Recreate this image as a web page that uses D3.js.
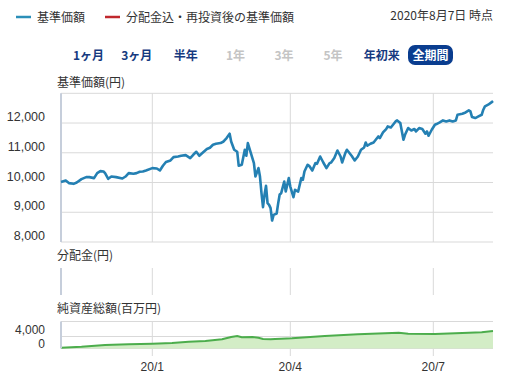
<!DOCTYPE html>
<html><head><meta charset="utf-8">
<script src="https://cdn.jsdelivr.net/npm/d3@7"></script>
<style>
html,body{margin:0;padding:0;background:#fff;}
svg{display:block;font-family:"Noto Sans CJK JP","Noto Sans",sans-serif;}
.num{font-family:"Liberation Sans",Arial,sans-serif;}
</style></head><body>
<svg id="c" width="510" height="376"></svg>
<script>
// ---------- data ----------
const navDates = ["2019-11-04","2019-11-07","2019-11-09","2019-11-12","2019-11-14","2019-11-17","2019-11-20","2019-11-22","2019-11-25","2019-11-27","2019-11-29","2019-12-01","2019-12-02","2019-12-04","2019-12-06","2019-12-09","2019-12-13","2019-12-15","2019-12-17","2019-12-20","2019-12-22","2019-12-24","2019-12-26","2019-12-28","2020-01-01","2020-01-04","2020-01-06","2020-01-08","2020-01-10","2020-01-13","2020-01-15","2020-01-18","2020-01-20","2020-01-23","2020-01-26","2020-01-28","2020-01-30","2020-02-01","2020-02-03","2020-02-06","2020-02-08","2020-02-10","2020-02-12","2020-02-15","2020-02-17","2020-02-19","2020-02-21","2020-02-22","2020-02-24","2020-02-26","2020-02-27","2020-02-29","2020-03-02","2020-03-03","2020-03-04","2020-03-06","2020-03-08","2020-03-09","2020-03-11","2020-03-12","2020-03-13","2020-03-14","2020-03-15","2020-03-16","2020-03-17","2020-03-18","2020-03-19","2020-03-20","2020-03-21","2020-03-23","2020-03-24","2020-03-25","2020-03-26","2020-03-28","2020-03-29","2020-03-31","2020-04-01","2020-04-03","2020-04-04","2020-04-06","2020-04-08","2020-04-09","2020-04-10","2020-04-12","2020-04-13","2020-04-15","2020-04-17","2020-04-18","2020-04-20","2020-04-22","2020-04-24","2020-04-26","2020-04-27","2020-04-29","2020-05-01","2020-05-03","2020-05-04","2020-05-06","2020-05-07","2020-05-10","2020-05-12","2020-05-14","2020-05-16","2020-05-18","2020-05-19","2020-05-20","2020-05-22","2020-05-24","2020-05-27","2020-05-28","2020-05-30","2020-06-01","2020-06-02","2020-06-04","2020-06-07","2020-06-08","2020-06-10","2020-06-12","2020-06-13","2020-06-15","2020-06-17","2020-06-19","2020-06-20","2020-06-22","2020-06-24","2020-06-26","2020-06-27","2020-06-28","2020-06-30","2020-07-02","2020-07-03","2020-07-05","2020-07-07","2020-07-09","2020-07-11","2020-07-13","2020-07-15","2020-07-16","2020-07-19","2020-07-21","2020-07-23","2020-07-24","2020-07-25","2020-07-27","2020-07-29","2020-07-31","2020-08-01","2020-08-02","2020-08-04","2020-08-06","2020-08-07"];
const navValues = [10020,10067,9980,9956,10000,10114,10182,10182,10148,10316,10384,10370,10316,10125,10202,10182,10135,10202,10316,10293,10316,10360,10370,10404,10485,10471,10404,10562,10690,10741,10855,10875,10899,10922,10822,10933,11034,10899,10990,11125,11168,11269,11303,11327,11380,11495,11640,11380,11101,11034,10562,10596,11101,10899,11327,10990,10653,10202,10485,10202,9643,9172,9586,9889,9306,9249,9138,8721,8913,8960,9300,9600,9643,10034,9697,10148,9865,9508,9754,9697,10148,10091,10370,10596,10562,10404,10653,10630,10875,10673,10485,10653,10673,10822,11077,10875,10673,10990,11101,10899,10741,10875,11101,11178,11347,11236,11303,11347,11549,11495,11684,11798,11886,11850,12054,12088,12000,11438,11606,11832,11751,11798,11717,11832,11798,11640,11717,11572,11774,11943,11966,12020,12088,12054,12088,12054,12088,12279,12313,12357,12424,12391,12202,12168,12222,12279,12448,12559,12616,12694,12741];
const assetDates = ["2019-11-04","2019-11-17","2019-12-02","2019-12-17","2020-01-01","2020-01-14","2020-01-25","2020-02-05","2020-02-16","2020-02-22","2020-02-26","2020-02-29","2020-03-07","2020-03-11","2020-03-14","2020-03-19","2020-03-22","2020-03-26","2020-04-02","2020-04-23","2020-05-14","2020-06-09","2020-06-15","2020-07-02","2020-07-19","2020-07-31","2020-08-07"];
const assetValues = [270,600,1170,1400,1600,1830,2270,2500,3070,3830,4170,3730,3830,3600,3170,3070,3170,3270,3400,4170,4730,5270,4930,4830,5170,5400,5830];
const navTicks = [8000,9000,10000,11000,12000,13000];
const navTickLabels = ["8,000","9,000","10,000","11,000","12,000",""];
const assetTicks = [0,4000,9000];
const assetTickLabels = ["0","4,000",""];
const monthTicks = ["2020-01-01","2020-04-01","2020-07-01"];
const monthTickLabels = ["20/1","20/4","20/7"];
const legendItems = ["基準価額","分配金込・再投資後の基準価額"];
const periodButtons = ["1ヶ月","3ヶ月","半年","1年","3年","5年","年初来","全期間"];
const periodEnabled = [true,true,true,false,false,false,true,true];
const asOfText = "2020年8月7日 時点";

// ---------- setup ----------
const P = d3.timeParse("%Y-%m-%d");
const svg = d3.select("#c");
const L = 61, R = 493;
const x = d3.scaleTime()
  .domain([P("2019-11-04"), P("2020-01-01"), P("2020-04-01"), P("2020-07-01"), P("2020-08-07")])
  .range([L, 152.3, 290.3, 433.3, R]);
const yNav = d3.scaleLinear().domain([8000, 13000]).range([242, 93.3]);
const yDiv = [268, 295];
const yAst = d3.scaleLinear().domain([0, 9000]).range([348.5, 321.5]);

const txt = "#333";
const grid = "#d9d9d9";
const axisCol = "#c6cedb";

// legend
const lg = svg.append("g");
const legendColors = ["#2b8fb8","#c0282d"];
const legendX = [16, 105];
legendItems.forEach((t,i)=>{
  lg.append("line").attr("x1",legendX[i]).attr("x2",legendX[i]+15).attr("y1",17).attr("y2",17)
    .attr("stroke",legendColors[i]).attr("stroke-width",2.5);
  lg.append("text").attr("x",legendX[i]+21).attr("y",21.5).attr("font-size",12).attr("fill",txt).text(t);
});
svg.append("text").attr("x",493).attr("y",20).attr("text-anchor","end").attr("font-size",12).attr("fill",txt).text(asOfText);

// buttons
const btnX = [88.5,136.7,185.7,235.5,284,333,381.7,430.5];
periodButtons.forEach((t,i)=>{
  const last = i === periodButtons.length-1;
  if (last) {
    svg.append("rect").attr("x",btnX[i]-22.5).attr("y",45).attr("width",45).attr("height",20).attr("rx",7)
      .attr("fill","#0a3d8f");
  }
  svg.append("text").attr("x",btnX[i]).attr("y",59.5).attr("text-anchor","middle").attr("font-size",12)
    .attr("font-weight","bold")
    .attr("fill", last ? "#fff" : (periodEnabled[i] ? "#163a80" : "#c4c4c4")).text(t);
});

// panel titles
const titles = [["基準価額(円)",87],["分配金(円)",260],["純資産総額(百万円)",313]];
titles.forEach(([t,yy])=>svg.append("text").attr("x",57).attr("y",yy).attr("font-size",12).attr("fill",txt).text(t));

// vertical month grid
function vgrid(y0,y1){
  svg.append("g").selectAll("line").data(monthTicks).join("line")
    .attr("x1",d=>x(P(d))).attr("x2",d=>x(P(d))).attr("y1",y0).attr("y2",y1)
    .attr("stroke",grid).attr("stroke-width",1);
}

// ---- main NAV panel ----
svg.append("g").selectAll("line").data(navTicks).join("line")
  .attr("x1",L).attr("x2",R).attr("y1",d=>yNav(d)).attr("y2",d=>yNav(d))
  .attr("stroke",grid).attr("stroke-width",1);
vgrid(93.3,242);
svg.append("g").selectAll("text").data(navTicks).join("text").attr("class","num")
  .attr("x",45).attr("y",d=>yNav(d)-2).attr("text-anchor","end").attr("font-size",12.5).attr("fill",txt)
  .text((d,i)=>navTickLabels[i]);
svg.append("line").attr("x1",L).attr("x2",L).attr("y1",93.3).attr("y2",242).attr("stroke",axisCol).attr("stroke-width",2);

const navData = navDates.map((d,i)=>({d:P(d),v:navValues[i]}));
svg.append("path").datum(navData)
  .attr("d",d3.line().x(p=>x(p.d)).y(p=>yNav(p.v)))
  .attr("fill","none").attr("stroke","#2480b3").attr("stroke-width",2.6).attr("stroke-linejoin","round");

// ---- dividend panel ----
vgrid(yDiv[0],yDiv[1]);
svg.append("line").attr("x1",L).attr("x2",L).attr("y1",yDiv[0]).attr("y2",yDiv[1]).attr("stroke",axisCol).attr("stroke-width",2);

// ---- net assets panel ----
svg.append("g").selectAll("line").data(assetTicks).join("line")
  .attr("x1",L).attr("x2",R).attr("y1",d=>yAst(d)).attr("y2",d=>yAst(d))
  .attr("stroke",grid).attr("stroke-width",1);
vgrid(321.5,356);
const astData = assetDates.map((d,i)=>({d:P(d),v:assetValues[i]}));
svg.append("path").datum(astData)
  .attr("d",d3.area().x(p=>x(p.d)).y0(yAst(0)).y1(p=>yAst(p.v)))
  .attr("fill","#d3edc6");
svg.append("path").datum(astData)
  .attr("d",d3.line().x(p=>x(p.d)).y(p=>yAst(p.v)))
  .attr("fill","none").attr("stroke","#4cad4c").attr("stroke-width",2);
const astLabelY = [348.2, 333.8, 0];
svg.append("g").selectAll("text").data(assetTicks).join("text").attr("class","num")
  .attr("x",45).attr("y",(d,i)=>astLabelY[i]).attr("text-anchor","end").attr("font-size",12).attr("fill",txt)
  .text((d,i)=>assetTickLabels[i]);
svg.append("line").attr("x1",L).attr("x2",L).attr("y1",321.5).attr("y2",348.5).attr("stroke",axisCol).attr("stroke-width",2);

// x labels
svg.append("g").selectAll("text").data(monthTicks).join("text").attr("class","num")
  .attr("x",d=>x(P(d))).attr("y",371).attr("text-anchor","middle").attr("font-size",12).attr("fill",txt)
  .text((d,i)=>monthTickLabels[i]);
</script>
</body></html>
